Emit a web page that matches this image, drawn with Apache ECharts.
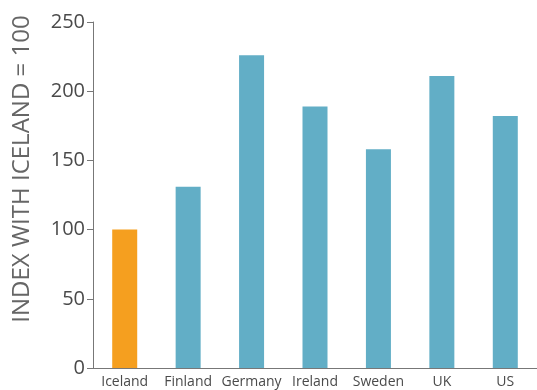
<!DOCTYPE html>
<html>
<head>
<meta charset="utf-8">
<script src="https://cdn.jsdelivr.net/npm/echarts@6/dist/echarts.min.js"></script>
<style>
  html, body { margin: 0; padding: 0; background: #fff; }
  #chart { width: 537px; height: 390px; }
</style>
</head>
<body>
<div id="chart"></div>
<script>
let countries = ['Iceland', 'Finland', 'Germany', 'Ireland', 'Sweden', 'UK', 'US'];
let indexValues = [100, 131, 226, 189, 158, 211, 182];
let yTicks = [0, 50, 100, 150, 200, 250];

let ORANGE = '#f59f1f';
let BLUE = '#62aec6';
let GREY = '#4a4a4a';

let chart = echarts.init(document.getElementById('chart'));

let option = {
  animation: false,
  grid: { left: 93, top: 22, width: 448, bottom: 22 },
  graphic: [{
    type: 'text',
    x: 22,
    y: 169,
    rotation: Math.PI / 2,
    style: {
      text: 'INDEX WITH ICELAND = 100',
      fontFamily: 'Open Sans',
      fontSize: 24,
      fill: '#666',
      align: 'center',
      verticalAlign: 'middle'
    }
  }],
  xAxis: {
    type: 'category',
    data: countries,
    axisLine: { lineStyle: { color: '#777', width: 1 } },
    axisTick: { inside: true, length: 8, lineStyle: { color: '#777' } },
    axisLabel: { color: GREY, fontFamily: 'Open Sans', fontSize: 14, margin: 7, interval: 0 }
  },
  yAxis: {
    type: 'value',
    min: yTicks[0],
    max: yTicks[yTicks.length - 1],
    interval: 50,
    splitLine: { show: false },
    axisLine: { show: true, lineStyle: { color: '#777', width: 1 } },
    axisTick: { show: true, length: 6, lineStyle: { color: '#777' } },
    axisLabel: { color: GREY, fontFamily: 'Open Sans', fontSize: 20, margin: 8 }
  },
  series: [{
    type: 'bar',
    data: indexValues,
    barWidth: 25,
    itemStyle: {
      color: params => params.dataIndex === 0 ? ORANGE : BLUE
    }
  }]
};

chart.setOption(option);
</script>
</body>
</html>
